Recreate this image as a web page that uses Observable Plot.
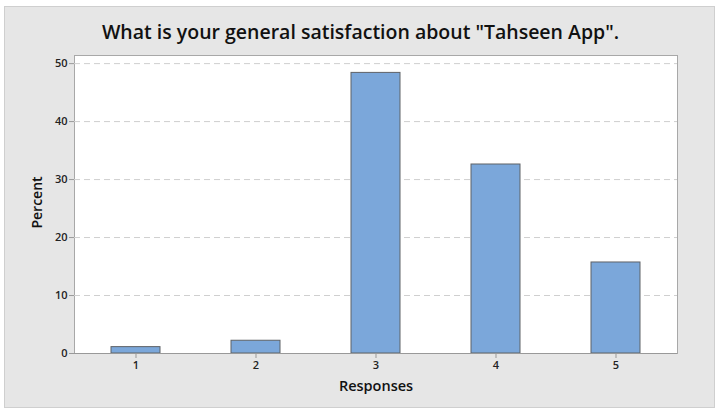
<!DOCTYPE html>
<html><head><meta charset="utf-8">
<script src="https://cdn.jsdelivr.net/npm/d3@7"></script>
<script src="https://cdn.jsdelivr.net/npm/@observablehq/plot@0.6"></script>
<style>
body{margin:0;background:#fff;}
#wrap{position:relative;width:721px;height:413px;overflow:hidden;font-family:"Open Sans",sans-serif;}
#panel{position:absolute;left:4px;top:6px;width:709px;height:400px;background:#e6e6e6;border:1px solid #cfcfcf;}
#title{position:absolute;left:0;top:18px;width:721px;text-align:center;font-size:19.5px;line-height:28px;font-weight:600;color:#111;}
#chart{position:absolute;left:0;top:0;}
</style></head><body>
<div id="wrap"><div id="panel"></div><div id="title">What is your general satisfaction about "Tahseen App".</div><div id="chart"></div></div>
<script>
const responses = ["1","2","3","4","5"];
const percents = [1.1, 2.2, 48.4, 32.6, 15.7];
const yTicks = [0,10,20,30,40,50];
const data = responses.map((r,i)=>({r, p: percents[i]}));
const chart = Plot.plot({
  width:721, height:413,
  marginLeft:74, marginRight:44, marginTop:55, marginBottom:60,
  style:{background:"transparent", fontFamily:"'Open Sans',sans-serif", fontSize:"11px", color:"#222"},
  x:{type:"band", domain:responses, paddingInner:0.594, paddingOuter:0.297, label:null},
  y:{domain:[0,51.4], label:null},
  marks:[
    Plot.frame({fill:"white", stroke:"#a8a8a8"}),
    Plot.gridY(yTicks.filter(d=>d>0), {stroke:"#cfcfcf", strokeOpacity:1, strokeDasharray:"6,4"}),
    Plot.barY(data, {x:"r", y:"p", fill:"#7ba7da", stroke:"#5f6266", strokeWidth:1}),
    Plot.axisY(yTicks, {tickSize:5, tickPadding:2, stroke:"#999", fontWeight:600, label:null}),
    Plot.axisX({tickSize:5, tickPadding:3, stroke:"#999", fontWeight:600, label:null}),
    Plot.ruleY([0], {stroke:"#999"}),
    Plot.text(["Percent"], {frameAnchor:"left", textAnchor:"middle", lineAnchor:"middle", dx:-37, dy:-2, rotate:-90, fontSize:14, fontWeight:600, fill:"#111"}),
    Plot.text(["Responses"], {frameAnchor:"bottom", textAnchor:"middle", lineAnchor:"middle", dy:33, fontSize:14.5, fontWeight:600, fill:"#111"})
  ]
});
document.getElementById("chart").append(chart);
</script>
</body></html>
